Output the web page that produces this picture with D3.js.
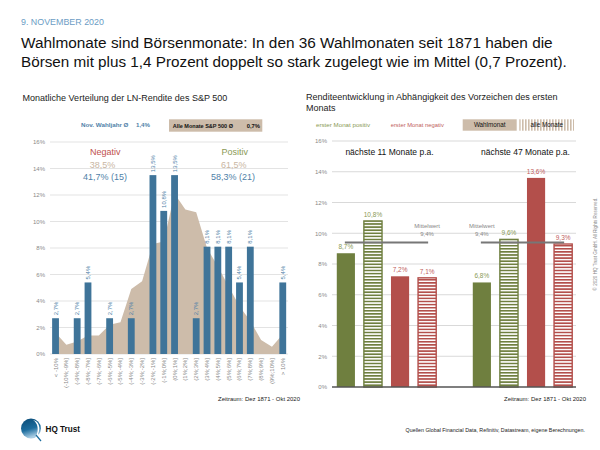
<!DOCTYPE html>
<html><head><meta charset="utf-8">
<script src="https://cdn.jsdelivr.net/npm/d3@7"></script>
<style>body{margin:0;background:#fff}svg{display:block;font-family:"Liberation Sans",Arial,sans-serif}</style>
</head><body><svg id="c" width="600" height="450"></svg>
<script>
// ---------- DATA ----------
const leftCategories = ["< -10%","(-10%;-9%]","(-9%;-8%]","(-8%;-7%]","(-7%;-6%]","(-6%;-5%]","(-5%;-4%]","(-4%;-3%]","(-3%;-2%]","(-2%;-1%]","(-1%;0%]","(0%;1%]","(1%;2%]","(2%;3%]","(3%;4%]","(4%;5%]","(5%;6%]","(6%;7%]","(7%;8%]","(8%;9%]","(9%;10%]","> 10%"];
const novElectionShare = [2.7,0,2.7,5.4,0,2.7,0,2.7,0,13.5,10.8,13.5,0,2.7,8.1,8.1,8.1,5.4,8.1,0,0,5.4];
const allMonthsShare   = [1.6,0.7,0.95,1.4,1.4,2.2,2.4,4.9,5.5,8.3,8.5,12.1,10.9,10.7,8.0,6.6,5.1,3.6,2.5,1.05,0.55,1.5];
const leftTicks = [0,2,4,6,8,10,12,14,16];

const rightGroups = ["nächste 11 Monate p.a.","nächste 47 Monate p.a."];
const rightSeries = ["posWahl","posAlle","negWahl","negAlle"];
const posWahlmonat = [8.7, 6.8];
const posAlleMonate = [10.8, 9.6];
const negWahlmonat = [7.2, 13.6];
const negAlleMonate = [7.1, 9.3];
const mittelwert = [9.4, 9.4];
const rightTicks = [0,2,4,6,8,10,12,14,16];

const fmt = v => d3.format(".1f")(v).replace(".", ",") + "%";

// ---------- SETUP ----------
const svg = d3.select("#c");
const C = {blue:"#3f7499", blueTxt:"#4f7fa8", beige:"#cdbcaa", red:"#b34f4b", redTxt:"#c0605c",
           green:"#6f7f3f", greenTxt:"#8a9a55", grid:"#e3e3e3", tick:"#8a8a8a"};
const defs = svg.append("defs");
function hatch(id, col){
  const p = defs.append("pattern").attr("id",id).attr("patternUnits","userSpaceOnUse").attr("width",6).attr("height",3.1);
  p.append("rect").attr("width",6).attr("height",3.1).attr("fill","#fff");
  p.append("rect").attr("width",6).attr("height",1.6).attr("fill",col);
}
hatch("hG", C.green); hatch("hR", C.red);
const vp = defs.append("pattern").attr("id","vB").attr("patternUnits","userSpaceOnUse").attr("width",3).attr("height",6);
vp.append("rect").attr("width",3).attr("height",6).attr("fill","#fff");
vp.append("rect").attr("width",1.6).attr("height",6).attr("fill",C.beige);
const lg = defs.append("linearGradient").attr("id","logoG").attr("x1","0").attr("y1","0").attr("x2","0.3").attr("y2","1");
lg.append("stop").attr("offset","0").attr("stop-color","#0a4a75");
lg.append("stop").attr("offset","0.6").attr("stop-color","#1d6d9e");
lg.append("stop").attr("offset","1").attr("stop-color","#a9cde4");

function txt(x,y,s,o={}){
  const t = svg.append("text").attr("x",x).attr("y",y).text(s)
    .attr("font-size",o.size||8).attr("fill",o.fill||"#222")
    .attr("text-anchor",o.anchor||"start").attr("font-weight",o.weight||"normal");
  if(o.width){ const w = t.node().getComputedTextLength(); t.attr("font-size",(o.size||8)*o.width/w); }
  return t;
}

// ---------- HEADER ----------
txt(21,25,"9. NOVEMBER 2020",{size:10,fill:"#6b9cc4",width:83});
txt(21,47.5,"Wahlmonate sind Börsenmonate: In den 36 Wahlmonaten seit 1871 haben die",{size:17,fill:"#111",width:532});
txt(21,66.5,"Börsen mit plus 1,4 Prozent doppelt so stark zugelegt wie im Mittel (0,7 Prozent).",{size:17,fill:"#111",width:546});

// ---------- LEFT CHART ----------
txt(22.5,101,"Monatliche Verteilung der LN-Rendite des S&P 500",{size:9,fill:"#222",width:205});
const yL = d3.scaleLinear().domain([0,16]).range([354,142]);
const xL = d3.scaleBand().domain(leftCategories).range([50.5,287.8]).paddingInner(0.37).paddingOuter(0.15);
const gL = svg.append("g");
gL.selectAll("line.g").data(leftTicks).join("line")
  .attr("x1",50).attr("x2",288).attr("y1",d=>yL(d)).attr("y2",d=>yL(d))
  .attr("stroke",C.grid).attr("stroke-width",1);
const yAxisL = d3.axisLeft(yL).tickValues(leftTicks).tickFormat(d=>d+"%").tickSize(0).tickPadding(0);
const ayL = svg.append("g").attr("transform","translate(45,0)").call(yAxisL);
ayL.select(".domain").remove();
ayL.selectAll("text").attr("font-size",6).attr("fill",C.tick).attr("font-family","Liberation Sans, Arial").attr("dy","0.32em");

const area = d3.area().x((d,i)=>xL(leftCategories[i])+xL.bandwidth()/2).y0(yL(0)).y1(d=>yL(d));
gL.append("path").datum(allMonthsShare).attr("d",area).attr("fill",C.beige);

const barData = leftCategories.map((c,i)=>({c,v:novElectionShare[i]})).filter(d=>d.v>0);
gL.selectAll("rect.b").data(barData).join("rect")
  .attr("x",d=>xL(d.c)).attr("width",xL.bandwidth())
  .attr("y",d=>yL(d.v)).attr("height",d=>yL(0)-yL(d.v)).attr("fill",C.blue);
gL.selectAll("text.bl").data(barData).join("text")
  .attr("transform",d=>`translate(${xL(d.c)+xL.bandwidth()/2+2},${yL(d.v)-3}) rotate(-90)`)
  .attr("font-size",6).attr("fill",C.blueTxt).text(d=>fmt(d.v));

const axL = d3.axisBottom(xL).tickSize(0).tickPadding(0);
const axg = svg.append("g").attr("transform",`translate(0,${yL(0)})`).call(axL);
axg.select(".domain").remove();
axg.selectAll("text").attr("font-size",6).attr("fill",C.tick).attr("font-family","Liberation Sans, Arial")
  .attr("text-anchor","end").attr("transform","translate(2,4) rotate(-90)").attr("dy",0).attr("y",0).attr("x",0);

// legend
txt(81,126.5,"Nov. Wahljahr Ø",{size:6.3,fill:C.blueTxt,weight:"bold",width:47.5});
txt(136,126.5,"1,4%",{size:6.3,fill:C.blueTxt,weight:"bold",width:14});
svg.append("rect").attr("x",169).attr("y",119.3).attr("width",93.3).attr("height",12.4).attr("fill",C.beige);
txt(172.7,127.5,"Alle Monate S&P 500 Ø",{size:6.3,fill:"#111",weight:"bold",width:60.5});
txt(246.7,127.5,"0,7%",{size:6.3,fill:"#111",weight:"bold",width:13.3});
txt(105.3,155,"Negativ",{size:9,fill:"#c0504d",anchor:"middle"});
txt(102.5,167.5,"38,5%",{size:9,fill:"#c9b6a2",anchor:"middle"});
txt(105,180,"41,7% (15)",{size:9,fill:C.blueTxt,anchor:"middle"});
txt(234.7,155,"Positiv",{size:9,fill:C.greenTxt,anchor:"middle"});
txt(233.7,167.5,"61,5%",{size:9,fill:"#c9b6a2",anchor:"middle"});
txt(233,180,"58,3% (21)",{size:9,fill:C.blueTxt,anchor:"middle"});
txt(300,401,"Zeitraum: Dez 1871 - Okt 2020",{size:6.5,fill:"#222",anchor:"end",width:82});

// ---------- RIGHT CHART ----------
txt(306,100,"Renditeentwicklung in Abhängigkeit des Vorzeichen des ersten",{size:9,fill:"#222",width:252});
txt(306,110.7,"Monats",{size:9,fill:"#222"});
const yR = d3.scaleLinear().domain([0,16]).range([387,141]);
const x0 = d3.scaleBand().domain(rightGroups).range([318.5,590.5]);
const x1 = d3.scaleBand().domain(rightSeries).range([0,x0.bandwidth()]).paddingInner(0.33).paddingOuter(0.675);
const gR = svg.append("g");
gR.selectAll("line.g").data(rightTicks.filter(d=>d>0)).join("line")
  .attr("x1",332).attr("x2",576).attr("y1",d=>yR(d)).attr("y2",d=>yR(d))
  .attr("stroke","#d9d9d9").attr("stroke-width",1);
const ayR = svg.append("g").attr("transform","translate(327,0)").call(d3.axisLeft(yR).tickValues(rightTicks).tickFormat(d=>d+"%").tickSize(0).tickPadding(0));
ayR.select(".domain").remove();
ayR.selectAll("text").attr("font-size",6).attr("fill",C.tick).attr("font-family","Liberation Sans, Arial").attr("dy","0.32em");

const seriesVals = {posWahl:posWahlmonat,posAlle:posAlleMonate,negWahl:negWahlmonat,negAlle:negAlleMonate};
const seriesStyle = {
  posWahl:{fill:C.green,stroke:"none",lab:C.greenTxt},
  posAlle:{fill:"url(#hG)",stroke:C.green,lab:C.greenTxt},
  negWahl:{fill:C.red,stroke:"none",lab:C.redTxt},
  negAlle:{fill:"url(#hR)",stroke:C.red,lab:C.redTxt}};
const rData = [];
rightGroups.forEach((g,gi)=>rightSeries.forEach(s=>rData.push({g,s,v:seriesVals[s][gi]})));
gR.selectAll("rect.b").data(rData).join("rect")
  .attr("x",d=>x0(d.g)+x1(d.s)).attr("width",x1.bandwidth())
  .attr("y",d=>yR(d.v)).attr("height",d=>yR(0)-yR(d.v))
  .attr("fill",d=>seriesStyle[d.s].fill).attr("stroke",d=>seriesStyle[d.s].stroke).attr("stroke-width",1.4);
gR.selectAll("text.v").data(rData).join("text")
  .attr("x",d=>x0(d.g)+x1(d.s)+x1.bandwidth()/2).attr("y",d=>yR(d.v)-4)
  .attr("text-anchor","middle").attr("font-size",6.5).attr("fill",d=>seriesStyle[d.s].lab).text(d=>fmt(d.v));
svg.append("line").attr("x1",332).attr("x2",576).attr("y1",yR(0)).attr("y2",yR(0)).attr("stroke","#555").attr("stroke-width",1.3);

// Mittelwert lines
rightGroups.forEach((g,gi)=>{
  const a = x0(g)+x1(rightSeries[0])+x1.bandwidth()/2, b = x0(g)+x1(rightSeries[3])+x1.bandwidth()/2;
  svg.append("line").attr("x1",a-1).attr("x2",b+1).attr("y1",yR(mittelwert[gi])).attr("y2",yR(mittelwert[gi]))
    .attr("stroke","#777").attr("stroke-width",2.2);
  const lx = gi===0 ? b : a;
  txt(lx,228,"Mittelwert",{size:6,fill:"#888",anchor:"middle"});
  txt(lx,236,fmt(mittelwert[gi]),{size:6,fill:"#888",anchor:"middle"});
  txt(x0(g)+x0.bandwidth()/2+3,155,g,{size:8.5,fill:"#111",anchor:"middle"});
});

// right legend
txt(316,126.5,"erster Monat positiv",{size:6.3,fill:C.greenTxt,width:54});
txt(390.7,126.5,"erster Monat negativ",{size:6.3,fill:C.redTxt,width:53.3});
svg.append("rect").attr("x",462.7).attr("y",119.3).attr("width",54).attr("height",11.4).attr("fill",C.beige);
txt(489.7,127.3,"Wahlmonat",{size:6.3,fill:"#111",anchor:"middle"});
svg.append("rect").attr("x",519.3).attr("y",119.3).attr("width",54.7).attr("height",11.4).attr("fill","url(#vB)");
txt(546.7,127.3,"alle Monate",{size:6.3,fill:"#111",anchor:"middle"});
txt(586,401,"Zeitraum: Dez 1871 - Okt 2020",{size:6.5,fill:"#222",anchor:"end",width:82});

// copyright
svg.append("text").attr("transform","translate(597,244) rotate(-90)").attr("text-anchor","middle")
  .attr("font-size",4.6).attr("fill","#888").text("© 2020 HQ Trust GmbH. All Rights Reserved.");

// ---------- FOOTER ----------
svg.append("circle").attr("cx",31).attr("cy",428.5).attr("r",10).attr("fill","url(#logoG)");
svg.append("path").attr("d","M33,420 C38,423 39,430 36,436 L41,440 L44,440 L38,434 C41,428 39,421 33,420 Z").attr("fill","#fff");
svg.append("path").attr("d","M36,435 L41,441").attr("stroke","#1d6d9e").attr("stroke-width",1.2);
txt(45.5,432,"HQ Trust",{size:10,fill:"#111",weight:"bold",width:34.5});
txt(585,432,"Quellen Global Financial Data, Refinitiv, Datastream, eigene Berechnungen.",{size:5.5,fill:"#222",anchor:"end",width:180});
</script></body></html>
